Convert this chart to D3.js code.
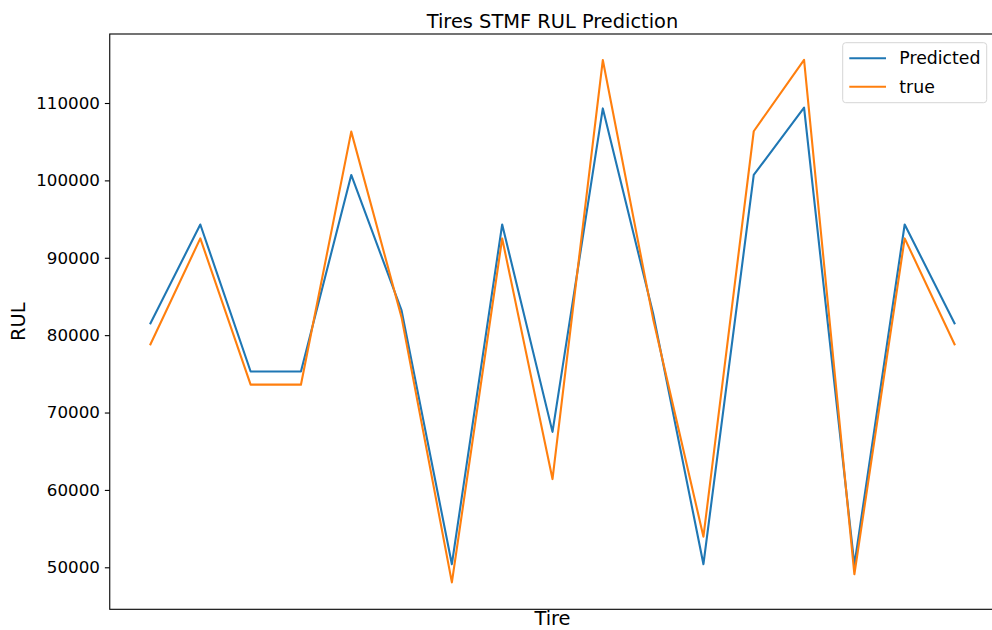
<!DOCTYPE html>
<html>
<head>
<meta charset="utf-8">
<script src="https://cdn.jsdelivr.net/npm/d3@7"></script>
<style>
  html, body { margin: 0; padding: 0; background: #fff; }
  svg { display: block; font-family: "DejaVu Sans", sans-serif; }
</style>
</head>
<body>
<svg id="chart" width="992" height="630"></svg>
<script>
// Tire index along the x axis
const tires = d3.range(17);
// Model prediction of remaining useful life
const predicted = [81400, 94300, 75300, 75300, 100700, 83200, 50400, 94300, 67500,
                   109300, 82800, 50400, 100700, 109400, 50300, 94300, 81400];
// Ground-truth remaining useful life
const actual = [78700, 92500, 73600, 73600, 106300, 82300, 48050, 92500, 61400,
                115550, 82100, 53950, 106350, 115580, 49100, 92500, 78700];
const yTicks = [50000, 60000, 70000, 80000, 90000, 100000, 110000];
const seriesNames = ["Predicted", "true"];
const seriesColors = ["#1f77b4", "#ff7f0e"];

const svg = d3.select("#chart");
const plot = { left: 109.75, right: 995.25, top: 34, bottom: 609.3 };

const x = d3.scaleLinear().domain([-0.8, 16.8]).range([plot.left, plot.right]);
const y = d3.scaleLinear().domain([44572, 118917]).range([plot.bottom, plot.top]);

const tickFont = 16.7;
const labelFont = 19.4;
const legendFont = 17.3;

// Y axis with ticks
const yAxis = d3.axisLeft(y).tickValues(yTicks).tickFormat(d3.format("d"))
  .tickSize(4.9).tickPadding(4.9);
const gy = svg.append("g").attr("transform", `translate(${plot.left},0)`).call(yAxis);
gy.select(".domain").remove();
gy.selectAll(".tick line").attr("stroke", "#000").attr("stroke-width", 1.1);
gy.selectAll(".tick text").attr("font-size", tickFont).attr("fill", "#000")
  .attr("font-family", "DejaVu Sans");

// Lines
const line = d3.line().x((d, i) => x(tires[i])).y(d => y(d));
[predicted, actual].forEach((vals, k) => {
  svg.append("path")
    .datum(vals)
    .attr("d", line)
    .attr("fill", "none")
    .attr("stroke", seriesColors[k])
    .attr("stroke-width", 2.1)
    .attr("stroke-linejoin", "round")
    .attr("stroke-linecap", "butt");
});

// Spines (frame)
svg.append("rect")
  .attr("x", plot.left).attr("y", plot.top)
  .attr("width", plot.right - plot.left).attr("height", plot.bottom - plot.top)
  .attr("fill", "none").attr("stroke", "#000").attr("stroke-width", 1.1);

// Title and axis labels
svg.append("text")
  .attr("x", (plot.left + plot.right) / 2).attr("y", 28)
  .attr("text-anchor", "middle").attr("font-size", labelFont).attr("fill", "#000")
  .text("Tires STMF RUL Prediction");

svg.append("text")
  .attr("x", (plot.left + plot.right) / 2).attr("y", 625)
  .attr("text-anchor", "middle").attr("font-size", labelFont).attr("fill", "#000")
  .text("Tire");

svg.append("text")
  .attr("transform", `translate(25,${(plot.top + plot.bottom) / 2}) rotate(-90)`)
  .attr("text-anchor", "middle").attr("font-size", labelFont).attr("fill", "#000")
  .text("RUL");

// Legend
const legend = svg.append("g");
legend.append("rect")
  .attr("x", 842.7).attr("y", 42.7).attr("width", 144).attr("height", 60)
  .attr("rx", 3).attr("fill", "#fff").attr("fill-opacity", 0.8)
  .attr("stroke", "#d6d6d6").attr("stroke-width", 1);
seriesNames.forEach((name, k) => {
  const ly = 58.3 + k * 28.4;
  legend.append("line")
    .attr("x1", 849.3).attr("x2", 886).attr("y1", ly).attr("y2", ly)
    .attr("stroke", seriesColors[k]).attr("stroke-width", 2.1);
  legend.append("text")
    .attr("x", 899.3).attr("y", ly + 6)
    .attr("font-size", legendFont).attr("fill", "#000")
    .text(name);
});
</script>
</body>
</html>
